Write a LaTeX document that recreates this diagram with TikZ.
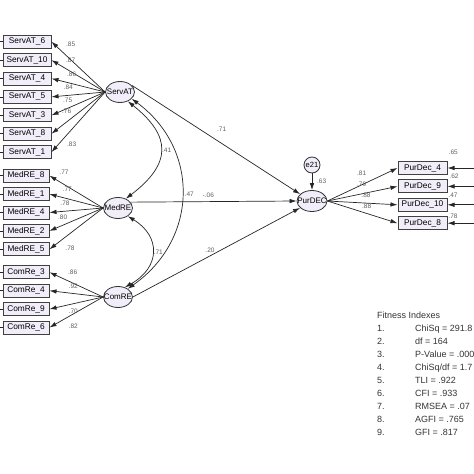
\documentclass[tikz,border=0pt]{standalone}
\usepackage{fontspec}
\setmainfont{Liberation Sans}
\usepackage{tikz}
\usetikzlibrary{shapes.geometric,arrows.meta,positioning}

\definecolor{boxfill}{RGB}{241,237,249}
\definecolor{coefgray}{RGB}{95,95,95}

\begin{document}
\begin{tikzpicture}[
        x=1pt, y=-1pt,
        node distance=4.4pt,
        obs/.style={rectangle, draw=black!75, line width=1pt, fill=boxfill, minimum width=46pt, minimum height=13pt, inner sep=0pt, font=\fontsize{8.3}{9}\selectfont},
        lat/.style={ellipse, draw=black!80, line width=0.8pt, fill=boxfill, minimum width=29pt, minimum height=21pt, inner sep=0pt},
        lattext/.style={inner sep=0pt, font=\fontsize{8}{9}\selectfont},
        errc/.style={circle, draw=black!80, line width=0.8pt, fill=boxfill, minimum size=16pt, inner sep=0pt, font=\fontsize{7.5}{8}\selectfont},
        coef/.style={inner sep=0pt, text=coefgray, font=\fontsize{6.5}{7}\selectfont},
        fitness/.style={inner sep=0pt, anchor=west, text height=6.5pt, text depth=1.8pt, text=black!80, font=\fontsize{9}{10}\selectfont},
        line/.style={draw=black!85, line width=0.7pt, -{Latex[length=7pt,width=4.5pt]}},
        covline/.style={draw=black!85, line width=0.7pt, {Latex[length=7pt,width=4.5pt]}-{Latex[length=7pt,width=4.5pt]}},
        stub/.style={draw=black!85, line width=0.7pt}
    ]
    \useasboundingbox (0,0) rectangle (474,474);
    \coordinate (leftedge) at (0,0);
    \coordinate (rightedge) at (474,0);

    % Observed variables
    \node [obs, minimum width=48pt] (servat6) at (27,41.7) {ServAT\_6};
    \node [obs, minimum width=48pt, below=of servat6] (servat10) {ServAT\_10};
    \node [obs, minimum width=48pt, below=of servat10] (servat4) {ServAT\_4};
    \node [obs, minimum width=48pt, below=of servat4] (servat5) {ServAT\_5};
    \node [obs, minimum width=48pt, below=of servat5] (servat3) {ServAT\_3};
    \node [obs, minimum width=48pt, below=of servat3] (servat8) {ServAT\_8};
    \node [obs, minimum width=48pt, below=of servat8] (servat1) {ServAT\_1};

    \node [obs] (medre8) at (26,175.7) {MedRE\_8};
    \node [obs, below=of medre8] (medre1) {MedRE\_1};
    \node [obs, below=of medre1] (medre4) {MedRE\_4};
    \node [obs, below=of medre4] (medre2) {MedRE\_2};
    \node [obs, below=of medre2] (medre5) {MedRE\_5};

    \node [obs] (comre3) at (26,272.3) {ComRe\_3};
    \node [obs, below=of comre3] (comre4) {ComRe\_4};
    \node [obs, below=of comre4] (comre9) {ComRe\_9};
    \node [obs, below=of comre9] (comre6) {ComRe\_6};

    \node [obs, minimum width=49pt] (purdec4) at (422.5,168) {PurDec\_4};
    \node [obs, minimum width=49pt, below=of purdec4] (purdec9) {PurDec\_9};
    \node [obs, minimum width=49pt, below=of purdec9] (purdec10) {PurDec\_10};
    \node [obs, minimum width=49pt, below=of purdec10] (purdec8) {PurDec\_8};

    % Latent variables
    \node [lat] (servat) at (120,92) {};
    \node [lattext] (servat-t) at (servat) {ServAT};
    \node [lat] (medre) at (118,208) {};
    \node [lattext] (medre-t) at (medre) {MedRE};
    \node [lat] (comre) at (118,297) {};
    \node [lattext] (comre-t) at (comre) {ComRE};
    \node [lat, minimum width=30pt] (purdec) at (312,201) {};
    \node [lattext] (purdec-t) at (purdec) {PurDEC};
    \node [errc] (e21) at (312,165) {e21};

    % Loadings and error stubs
    \foreach \b in {servat6,servat10,servat4,servat5,servat3,servat8,servat1}
        \path [line] (servat.west) -- (\b.east);
    \foreach \b in {medre8,medre1,medre4,medre2,medre5}
        \path [line] (medre.west) -- (\b.east);
    \foreach \b in {comre3,comre4,comre9,comre6}
        \path [line] (comre.west) -- (\b.east);
    \foreach \b in {servat6,servat10,servat4,servat5,servat3,servat8,servat1,medre8,medre1,medre4,medre2,medre5,comre3,comre4,comre9,comre6}
        \path [stub] (\b.west) -- (\b.west -| leftedge);
    \foreach \b in {purdec4,purdec9,purdec10,purdec8} {
        \path [line] (purdec.east) -- (\b.west);
        \path [line] (\b.east -| rightedge) -- (\b.east);
    }

    % Structural paths
    \path [line] (servat.30) -- (purdec.150);
    \path [line] (medre.25) -- (purdec.west);
    \path [line] (comre.east) -- (purdec.-150);
    \path [line] (e21) -- (purdec);

    % Covariances
    \path [covline] (servat.-50) .. controls +(44,35) and +(46,-35) .. (medre.50);
    \path [covline] (servat.-30) .. controls +(68,50) and +(71,-50) .. (comre.40);
    \path [covline] (medre.-40) .. controls +(33,20) and +(36,-20) .. (comre.55);

    % Estimates
    \foreach \x/\y/\t [count=\i] in {70.7/44/.85, 70.7/60/.87, 71.7/74.3/.86, 68.3/87.3/.84, 67.7/100/.75, 66.7/111.7/.76, 71.7/144/.83,
            64/172.7/.77, 67.3/189.3/.77, 65/203.3/.78, 62.7/217.3/.80, 70/248.3/.78,
            72.7/272.7/.86, 73.3/286.7/.92, 73.3/311.7/.70, 73.3/326/.82,
            361.7/173.3/.81, 361.7/184.3/.79, 366/195/.88, 366.7/206/.88,
            453.3/152.7/.65, 454/176/.62, 453/195/.47, 453/216/.78,
            221.7/129.3/.71, 166.7/150.7/.41, 189.3/194/.47, 208.3/195/-.06, 158.3/252.7/.71, 210/250/.20, 321.7/181.7/.63}
        \node [coef] (est\i) at (\x,\y) {\t};

    % Fitness Indexes
    \node [fitness] (fit-title) at (377,316) {Fitness Indexes};
    \foreach \n/\txt in {1/{ChiSq = 291.8}, 2/{df = 164}, 3/{P-Value = .000}, 4/{ChiSq/df = 1.7}, 5/{TLI = .922}, 6/{CFI = .933}, 7/{RMSEA = .07}, 8/{AGFI = .765}, 9/{GFI = .817}} {
        \node [fitness] (fit-n\n) at (377,316+13*\n) {\n.};
        \node [fitness] (fit-v\n) at (415,316+13*\n) {\txt};
    }
\end{tikzpicture}
\end{document}
